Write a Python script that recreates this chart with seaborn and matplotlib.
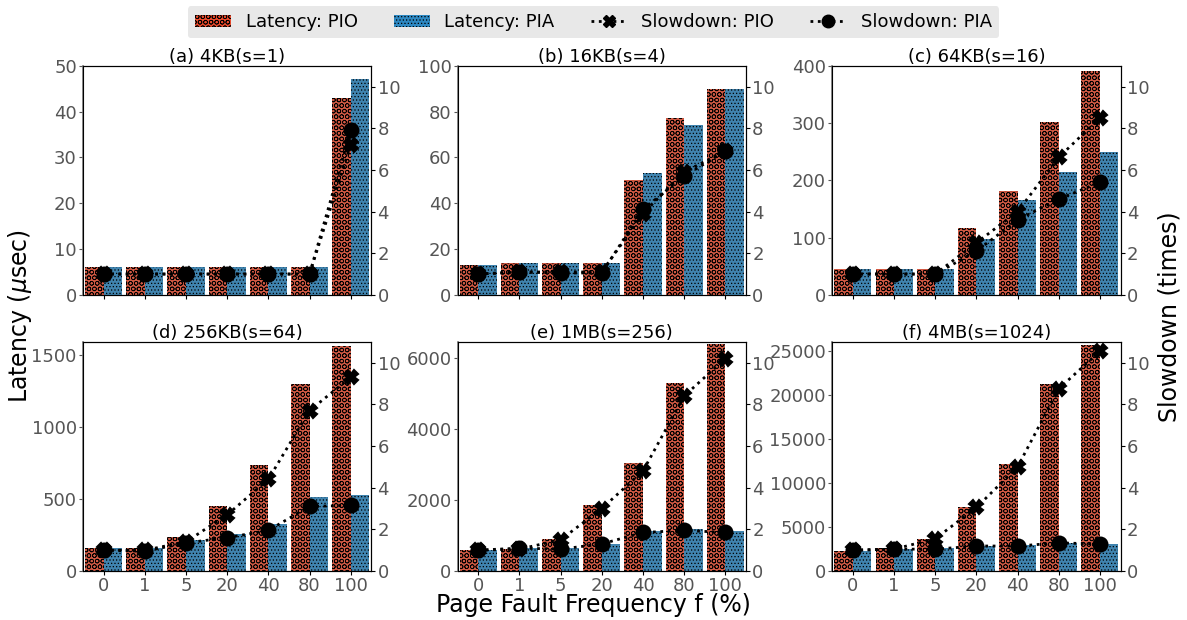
import numpy as np
import pandas as pd
import matplotlib
matplotlib.use('Agg')
import matplotlib.pyplot as plt
import seaborn as sns
from matplotlib.patches import Patch
from matplotlib.lines import Line2D

# data
freqs = ['0', '1', '5', '20', '40', '80', '100']
titles = ['(a) 4KB(s=1)', '(b) 16KB(s=4)', '(c) 64KB(s=16)',
          '(d) 256KB(s=64)', '(e) 1MB(s=256)', '(f) 4MB(s=1024)']

lat_pio = [
    [6, 6, 6, 6, 6, 6, 43],
    [13, 14, 14, 14, 50, 77, 90],
    [45, 45, 46, 116, 182, 302, 390],
    [160, 160, 235, 450, 735, 1300, 1560],
    [600, 630, 900, 1850, 3030, 5300, 6400],
    [2300, 2600, 3600, 7300, 12100, 21200, 25600],
]
lat_pia = [
    [6, 6, 6, 6, 6, 6, 47],
    [13, 14, 14, 14, 53, 74, 90],
    [45, 46, 46, 97, 166, 214, 250],
    [160, 160, 215, 255, 325, 515, 525],
    [600, 650, 650, 760, 1130, 1190, 1130],
    [2300, 2500, 2600, 2800, 2900, 3200, 3050],
]
slow_pio = [
    [1, 1, 1, 1, 1, 1, 7.2],
    [1, 1.1, 1.1, 1.1, 3.9, 5.9, 6.9],
    [1, 1, 1, 2.5, 4.0, 6.6, 8.5],
    [1, 1, 1.4, 2.7, 4.4, 7.7, 9.3],
    [1, 1.05, 1.5, 3.0, 4.8, 8.4, 10.2],
    [1, 1.05, 1.55, 3.05, 5.0, 8.75, 10.55],
]
slow_pia = [
    [1, 1, 1, 1, 1, 1, 7.9],
    [1, 1.1, 1.05, 1.05, 4.1, 5.7, 6.9],
    [1, 1, 1, 2.1, 3.6, 4.6, 5.4],
    [1, 0.95, 1.35, 1.6, 1.95, 3.1, 3.15],
    [1, 1.1, 1.05, 1.3, 1.85, 1.95, 1.85],
    [1, 1.05, 1.05, 1.2, 1.2, 1.35, 1.3],
]
ylims = [50, 100, 400, 1590, 6450, 26000]

red = '#ea4a2c'
blue = '#2d88c2'
gray = '#555555'

plt.rcParams['hatch.linewidth'] = 0.5
plt.rcParams['font.family'] = ['DejaVu Sans']

fig, axes = plt.subplots(2, 3, figsize=(11.87, 6.2), dpi=100)
fig.subplots_adjust(left=0.070, right=0.944, top=0.894, bottom=0.079,
                    wspace=0.30, hspace=0.205)

for i, ax in enumerate(axes.flat):
    df = pd.DataFrame({
        'f': freqs * 2,
        'lat': lat_pio[i] + lat_pia[i],
        'type': ['PIO'] * 7 + ['PIA'] * 7,
    })
    sns.barplot(data=df, x='f', y='lat', hue='type', order=freqs,
                hue_order=['PIO', 'PIA'], palette=[red, blue],
                width=0.9, gap=0, legend=False, ax=ax)
    for cont, hatch in zip(ax.containers, ['OOO', '.....']):
        for bar in cont:
            bar.set_hatch(hatch)
            bar.set_edgecolor('black')
            bar.set_linewidth(0)

    ax2 = ax.twinx()
    sd = pd.DataFrame({
        'f': freqs * 2,
        'slow': slow_pio[i] + slow_pia[i],
        'type': ['PIO'] * 7 + ['PIA'] * 7,
    })
    sns.pointplot(data=sd, x='f', y='slow', hue='type', order=freqs,
                  hue_order=['PIO', 'PIA'], palette=['black', 'black'],
                  markers=['X', 'o'], linestyles=[':', ':'], dodge=False,
                  legend=False, markersize=10, linewidth=2, ax=ax2)
    ax2.set_ylim(0, 11)
    ax2.set_yticks([0, 2, 4, 6, 8, 10])
    ax2.set_ylabel('')

    ax.set_xlim(-0.5, 6.5)
    ax.set_ylim(0, ylims[i])
    ax.set_title(titles[i], fontsize=13, pad=2)
    ax.set_xlabel('')
    ax.set_ylabel('')
    ax.tick_params(labelsize=13, colors=gray, length=3, pad=1.5)
    ax.tick_params(axis='x', color='black')
    ax2.tick_params(labelsize=13, colors=gray, length=3, pad=1.5)
    ax2.tick_params(axis='y', color='black')
    if i < 3:
        ax.set_xticklabels([])
    ax.spines['left'].set_color('#777777')
    ax.spines['left'].set_linewidth(1.2)

fig.text(0.017, 0.49, 'Latency ($\\mu$sec)', rotation=90, va='center',
         ha='center', fontsize=17)
fig.text(0.985, 0.49, 'Slowdown (times)', rotation=90, va='center',
         ha='center', fontsize=17)
fig.text(0.5, 0.024, 'Page Fault Frequency f (%)', ha='center',
         va='center', fontsize=17)

handles = [
    Patch(facecolor=red, edgecolor='black', linewidth=0, hatch='OOO'),
    Patch(facecolor=blue, edgecolor='black', linewidth=0, hatch='.....'),
    Line2D([], [], color='black', ls=':', lw=2, marker='X', markersize=9),
    Line2D([], [], color='black', ls=':', lw=2, marker='o', markersize=9),
]
labels = ['Latency: PIO', 'Latency: PIA', 'Slowdown: PIO', 'Slowdown: PIA']
leg = fig.legend(handles, labels, loc='upper center', ncol=4,
                 bbox_to_anchor=(0.5, 1.005), fontsize=13, frameon=True,
                 facecolor='#e8e8e8', edgecolor='none', framealpha=1,
                 columnspacing=2.0, handlelength=2.0)

fig.savefig('out.png', dpi=100)
